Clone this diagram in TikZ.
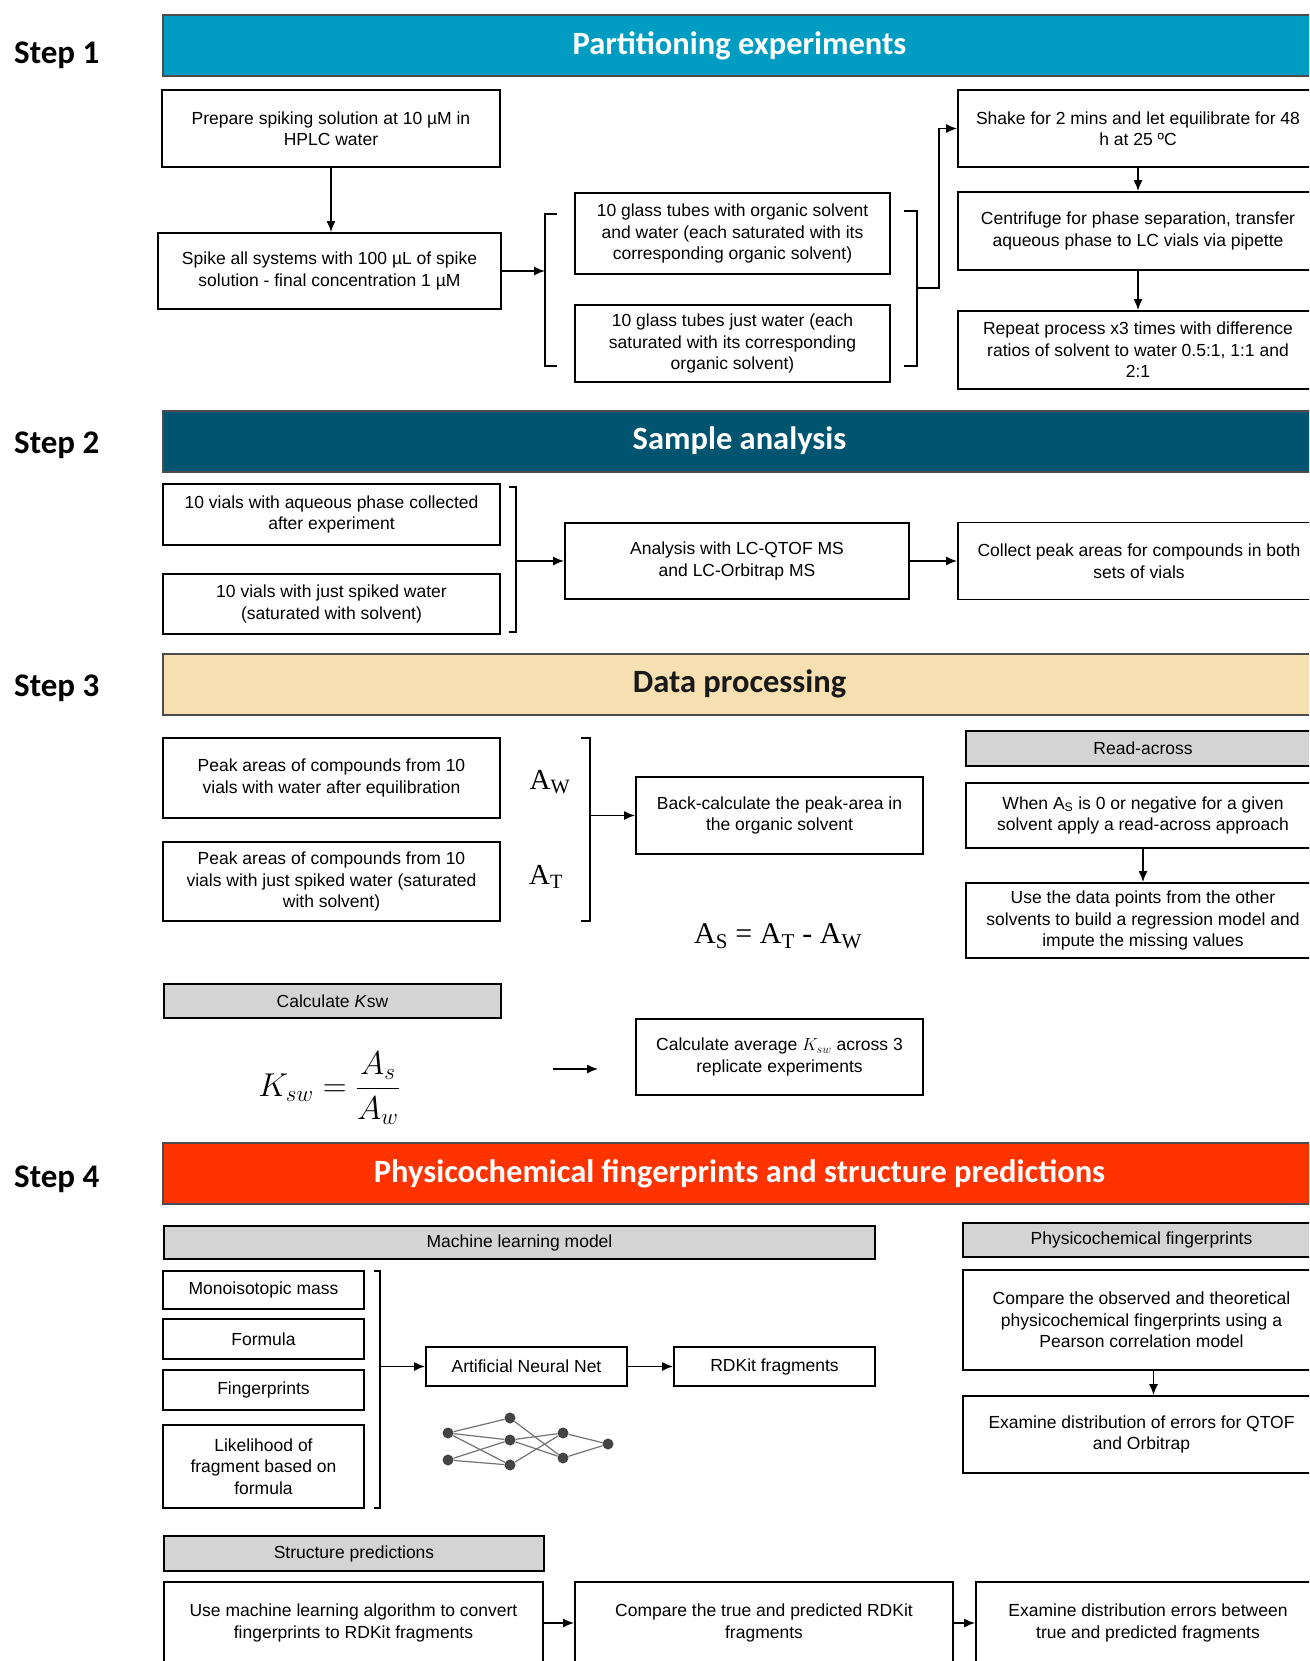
\RequirePackage{fix-cm}
\documentclass[tikz,border=0pt]{standalone}
\usepackage{amsmath}
\usepackage[no-math]{fontspec}
\setmainfont{Liberation Sans}
\newfontfamily\headfont{Carlito}
\newfontfamily\formfont{Liberation Serif}
\usetikzlibrary{arrows.meta,positioning}

\definecolor{stepone}{RGB}{0,156,193}
\definecolor{steptwo}{RGB}{0,84,112}
\definecolor{stepthree}{RGB}{246,223,176}
\definecolor{stepfour}{RGB}{255,51,0}
\definecolor{boxgray}{RGB}{212,212,212}
\definecolor{netgray}{RGB}{68,68,68}

\tikzset{
  box/.style={draw=black,line width=1.8pt,align=center,inner sep=0pt,font=\fontsize{17.5}{21.5}\selectfont},
  graybox/.style={box,fill=boxgray},
  banner/.style={draw=black!70,line width=2pt,inner sep=0pt,minimum width=1153,minimum height=61,
    font=\headfont\bfseries\fontsize{32.5}{38}\selectfont,text=white},
  steplabel/.style={anchor=west,inner sep=0pt,font=\headfont\bfseries\fontsize{33}{38}\selectfont},
  mathlabel/.style={inner sep=0pt},
  arr/.style={-{Latex[length=11pt,width=9pt]},line width=1.6pt},
  brace/.style={line width=1.5pt}
}

\begin{document}
\begin{tikzpicture}[x=1pt,y=-1pt]
  \useasboundingbox (0,0) rectangle (1309,1661);
  \clip (0,0) rectangle (1309,1661);

  % step labels and banners
  \node[steplabel] (s1) at (14,55.5) {Step 1};
  \node[steplabel] (s2) at (14,445.5) {Step 2};
  \node[steplabel] (s3) at (14,688.5) {Step 3};
  \node[steplabel] (s4) at (14,1179) {Step 4};
  \node[banner,fill=stepone] (b1) at (739.5,45.5) {Partitioning experiments};
  \node[banner,fill=steptwo] (b2) at (739.5,441) {Sample analysis};
  \node[banner,fill=stepthree,text=black!90] (b3) at (739.5,684) {Data processing};
  \node[banner,fill=stepfour] (b4) at (739.5,1173.5) {Physicochemical fingerprints and structure predictions};

  % step 1
  \begin{scope}[every node/.style={box}]
    \node[minimum width=338,minimum height=77] (prep) at (331,128.5) {Prepare spiking solution at 10 µM in\\HPLC water};
    \node[minimum width=343,minimum height=76] (spike) at (329.5,271) {Spike all systems with 100 µL of spike\\solution - final concentration 1 µM};
    \node[minimum width=315,minimum height=81] (tubeorg) at (732.5,233.5) {10 glass tubes with organic solvent\\and water (each saturated with its\\corresponding organic solvent)};
    \node[minimum width=315,minimum height=77] (tubewat) at (732.5,343.5) {10 glass tubes just water (each\\saturated with its corresponding\\organic solvent)};
    \node[minimum width=360,minimum height=77] (shake) at (1138,128.5) {Shake for 2 mins and let equilibrate for 48\\h at 25 ºC};
    \node[minimum width=360,minimum height=78] (centri) at (1138,231) {Centrifuge for phase separation, transfer\\aqueous phase to LC vials via pipette};
    \node[minimum width=360,minimum height=78] (rep) at (1138,350) {Repeat process x3 times with difference\\ratios of solvent to water 0.5:1, 1:1 and\\2:1};
  \end{scope}
  \draw[brace] (557,214) -- (545,214) -- (545,366) -- (557,366);
  \draw[brace] (904,211) -- (917,211) -- (917,366) -- (904,366);
  \coordinate (brkin) at (545,271);
  \coordinate (brkout) at (917,288);
  \draw[arr] (prep.south) -- (prep.south |- spike.north);
  \draw[arr] (spike) -- (brkin);
  \draw[arr] (brkout) -- ++(22,0) |- (shake);
  \draw[arr] (shake) -- (centri);
  \draw[arr] (centri) -- (rep);

  % step 2
  \begin{scope}[every node/.style={box}]
    \node[minimum width=337,minimum height=61] (vialaq) at (331.5,514.5) {10 vials with aqueous phase collected\\after experiment};
    \node[minimum width=337,minimum height=60] (vialsp) at (331.5,604) {10 vials with just spiked water\\(saturated with solvent)};
    \node[minimum width=344,minimum height=76] (analysis) at (737,561) {Analysis with LC-QTOF MS\\and LC-Orbitrap MS};
    \node[minimum width=362,minimum height=77] (collect) at (1139,561) {Collect peak areas for compounds in both\\sets of vials};
  \end{scope}
  \draw[brace] (509,487) -- (516,487) -- (516,632) -- (509,632);
  \coordinate (brkvial) at (516,561);
  \draw[arr] (brkvial) -- (analysis);
  \draw[arr] (analysis) -- (collect);

  % step 3
  \begin{scope}[every node/.style={box}]
    \node[minimum width=337,minimum height=80] (peakw) at (331.5,778) {Peak areas of compounds from 10\\vials with water after equilibration};
    \node[minimum width=337,minimum height=79] (peakt) at (331.5,881.5) {Peak areas of compounds from 10\\vials with just spiked water (saturated\\with solvent)};
    \node[minimum width=287,minimum height=77] (backcalc) at (779.5,815.5) {Back-calculate the peak-area in\\the organic solvent};
    \node[graybox,minimum width=354,minimum height=35] (readacross) at (1143,748.5) {Read-across};
    \node[minimum width=354,minimum height=65] (whenas) at (1143,815.5) {When A\textsubscript{S} is 0 or negative for a given\\solvent apply a read-across approach};
    \node[minimum width=354,minimum height=75] (usedata) at (1143,920.5) {Use the data points from the other\\solvents to build a regression model and\\impute the missing values};
    \node[graybox,minimum width=337,minimum height=34] (calck) at (332.5,1001) {Calculate \textit{K}sw};
    \node[minimum width=287,minimum height=76] (average) at (779.5,1057) {Calculate average $K_{sw}$ across 3\\replicate experiments};
  \end{scope}
  \node[mathlabel,font=\formfont\fontsize{29}{33}\selectfont] (aw) at (550,782) {A\textsubscript{W}};
  \node[mathlabel,font=\formfont\fontsize{29}{33}\selectfont] (at) at (546,877) {A\textsubscript{T}};
  \node[mathlabel,font=\formfont\fontsize{30}{34}\selectfont] (asum) at (778,936) {A\textsubscript{S} = A\textsubscript{T} - A\textsubscript{W}};
  \node[mathlabel,font=\fontsize{33}{38}\selectfont] (kform) at (329,1088) {$K_{sw}=\dfrac{A_s}{A_w}$};
  \draw[brace] (581,738) -- (590,738) -- (590,921) -- (581,921);
  \coordinate (brkpeak) at (590,815.5);
  \coordinate (kfrom) at (553,1069);
  \coordinate (kto) at (598,1069);
  \draw[arr] (brkpeak) -- (backcalc);
  \draw[arr] (whenas) -- (usedata);
  \draw[arr,line width=1.3pt] (kfrom) -- (kto);

  % step 4
  \begin{scope}[every node/.style={box}]
    \node[graybox,minimum width=711,minimum height=33] (mlhead) at (519.5,1242.5) {Machine learning model};
    \node[minimum width=201,minimum height=38] (mono) at (263.5,1290) {Monoisotopic mass};
    \node[minimum width=201,minimum height=40] (formula) at (263.5,1339) {Formula};
    \node[minimum width=201,minimum height=40] (fprint) at (263.5,1390) {Fingerprints};
    \node[minimum width=201,minimum height=83] (likely) at (263.5,1466.5) {Likelihood of\\fragment based on\\formula};
    \node[minimum width=201,minimum height=39] (ann) at (526.5,1366.5) {Artificial Neural Net};
    \node[minimum width=201,minimum height=39] (rdkit) at (774.5,1366.5) {RDKit fragments};
    \node[graybox,minimum width=357,minimum height=34] (pcfhead) at (1141.5,1240) {Physicochemical fingerprints};
    \node[minimum width=357,minimum height=100] (compare) at (1141.5,1320) {Compare the observed and theoretical\\physicochemical fingerprints using a\\Pearson correlation model};
    \node[minimum width=357,minimum height=77] (examine) at (1141.5,1434.5) {Examine distribution of errors for QTOF\\and Orbitrap};
    \node[graybox,minimum width=380,minimum height=35] (sphead) at (354,1553.5) {Structure predictions};
    \node[minimum width=379,minimum height=82] (useml) at (353.5,1623) {Use machine learning algorithm to convert\\fingerprints to RDKit fragments};
    \node[minimum width=378,minimum height=82] (comptrue) at (764,1623) {Compare the true and predicted RDKit\\fragments};
    \node[minimum width=344,minimum height=82] (examdist) at (1148,1623) {Examine distribution errors between\\true and predicted fragments};
  \end{scope}
  \draw[brace] (374,1271) -- (380,1271) -- (380,1508) -- (374,1508);
  \coordinate (brkml) at (380,1366.5);
  \draw[arr] (brkml) -- (ann);
  \draw[arr] (ann) -- (rdkit);
  \draw[arr] ([xshift=12]compare.south) -- ([xshift=12]examine.north);
  \draw[arr] (useml) -- (comptrue);
  \draw[arr] (comptrue) -- (examdist);

  % neural net icon
  \begin{scope}[every node/.style={circle,fill=netgray,inner sep=0pt,minimum size=11}]
    \node (n1) at (448,1433) {};
    \node (n2) at (448,1460) {};
    \node (n3) at (510,1418) {};
    \node (n4) at (510,1440) {};
    \node (n5) at (510,1465) {};
    \node (n6) at (563,1433) {};
    \node (n7) at (563,1458) {};
    \node (n8) at (608,1444) {};
  \end{scope}
  \begin{scope}[every edge/.style={draw=black!55,line width=1.2pt}]
    \path (n1) edge (n3);
    \path (n1) edge (n4);
    \path (n1) edge (n5);
    \path (n2) edge (n4);
    \path (n2) edge (n5);
    \path (n3) edge (n7);
    \path (n4) edge (n6);
    \path (n4) edge (n7);
    \path (n5) edge (n6);
    \path (n6) edge (n8);
    \path (n7) edge (n8);
  \end{scope}
\end{tikzpicture}
\end{document}
